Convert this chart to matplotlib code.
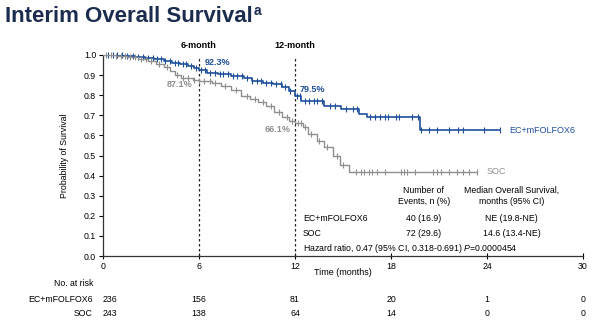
import numpy as np
import matplotlib
matplotlib.use('Agg')
import matplotlib.pyplot as plt
import matplotlib.transforms as mtransforms

plt.rcParams['font.family'] = ['Liberation Sans', 'DejaVu Sans']
plt.rcParams['mathtext.fontset'] = 'custom'
plt.rcParams['mathtext.rm'] = 'Liberation Sans'
plt.rcParams['mathtext.it'] = 'Liberation Sans:italic'

BLUE = '#1f4f9b'
GRAY = '#8f8f8f'
NAVY = '#1b2c4e'

# Kaplan-Meier step points (time in months, survival after the step)
ec_times = [0, 1.3, 2.0, 2.6, 3.2, 3.8, 4.3, 4.8, 5.3, 5.7, 6.0, 6.5, 7.2, 8.0, 8.8,
            9.3, 10.0, 10.6, 11.2, 11.6, 12.0, 12.4, 13.8, 14.9, 16.0, 16.5, 19.8]
ec_surv = [1.0, 0.995, 0.99, 0.985, 0.98, 0.972, 0.962, 0.955, 0.945, 0.935, 0.923, 0.912,
           0.904, 0.897, 0.885, 0.872, 0.862, 0.855, 0.84, 0.82, 0.795, 0.77, 0.747, 0.73,
           0.705, 0.69, 0.625]
ec_end = 24.8

soc_times = [0, 0.8, 1.5, 2.2, 2.8, 3.3, 3.8, 4.2, 4.5, 4.9, 5.6, 6.0, 6.8, 7.4, 8.0,
             8.6, 9.2, 9.7, 10.2, 10.7, 11.2, 11.6, 12.0, 12.5, 12.8, 13.4, 13.8, 14.4,
             14.8, 15.4]
soc_surv = [1.0, 0.995, 0.99, 0.98, 0.97, 0.955, 0.94, 0.92, 0.9, 0.885, 0.875, 0.871,
            0.86, 0.847, 0.825, 0.797, 0.78, 0.765, 0.745, 0.715, 0.69, 0.672, 0.661,
            0.64, 0.605, 0.572, 0.54, 0.497, 0.455, 0.418]
soc_end = 23.4

# Censoring times
ec_censor = [0.3, 0.6, 0.9, 1.2, 1.5, 1.9, 2.2, 2.5, 2.8, 3.1, 3.4, 3.6, 3.9, 4.2, 4.5,
             4.7, 5.0, 5.2, 5.5, 5.8, 6.1, 6.4, 6.7, 7.0, 7.3, 7.5, 7.8, 8.1, 8.4, 8.7,
             9.0, 9.3, 9.6, 9.9, 10.2, 10.5, 10.8, 11.1, 11.4, 11.7, 12.1, 12.3, 12.6,
             12.9, 13.2, 13.4, 13.7, 14.2, 14.5, 15.2, 15.6, 15.9, 16.7, 17.0, 17.3,
             17.6, 17.8, 18.3, 18.5, 19.3, 19.7, 19.9, 20.4, 20.9, 21.6, 22.2, 22.5,
             23.8, 24.8]
soc_censor = [0.2, 0.5, 0.8, 1.1, 1.4, 1.7, 2.0, 2.4, 2.7, 3.0, 3.5, 4.0, 4.6, 5.0, 5.3,
              5.7, 6.0, 6.3, 6.7, 7.0, 7.6, 8.3, 9.0, 9.5, 10.0, 10.5, 11.0, 11.5, 11.8,
              12.2, 12.4, 12.6, 13.0, 13.5, 14.0, 14.6, 15.0, 15.8, 16.1, 16.3, 16.6,
              16.8, 17.1, 17.6, 18.6, 18.8, 19.0, 19.5, 20.6, 20.9, 21.1, 21.6, 22.1,
              22.5, 22.9, 23.4]

# Landmark estimates
landmarks = [6, 12]
ec_landmark = ['92.3%', '79.5%']
soc_landmark = ['87.1%', '66.1%']

# Numbers at risk
risk_times = [0, 6, 12, 18, 24, 30]
ec_risk = [236, 156, 81, 20, 1, 0]
soc_risk = [243, 138, 64, 14, 0, 0]


def surv_at(times, surv, t):
    idx = np.searchsorted(times, t, side='right') - 1
    return np.asarray(surv)[idx]


fig = plt.figure(figsize=(6, 3.21), dpi=100)
ax = fig.add_axes([103 / 600, 65 / 321, 480 / 600, 201 / 321])

for times, surv, end, cens, color, lw in [
        (ec_times, ec_surv, ec_end, ec_censor, BLUE, 1.2),
        (soc_times, soc_surv, soc_end, soc_censor, GRAY, 1.0)]:
    t = list(times) + [end]
    s = list(surv) + [surv[-1]]
    ax.step(t, s, where='post', color=color, lw=lw, zorder=3)
    ax.plot(cens, surv_at(times, surv, cens), ls='none', marker='|',
            ms=5, mew=0.8, color=color, zorder=3, clip_on=False)

ax.text(ec_end + 0.6, ec_surv[-1], 'EC+mFOLFOX6', color=BLUE, fontsize=6.5, va='center')
ax.text(soc_end + 0.6, soc_surv[-1], 'SOC', color=GRAY, fontsize=6.5, va='center')

for m, lab in zip(landmarks, ['6-month', '12-month']):
    ax.plot([m, m], [0, 0.99], ls=(0, (2, 2)), color='#222222', lw=0.9, zorder=2)
    ax.text(m, 1.045, lab, ha='center', va='center', fontsize=6.5, fontweight='bold')

ax.text(6.35, 0.963, ec_landmark[0], color=BLUE, fontsize=6.5, fontweight='bold', va='center')
ax.text(5.6, 0.852, soc_landmark[0], color=GRAY, fontsize=6.5, fontweight='bold',
        va='center', ha='right')
ax.text(12.3, 0.83, ec_landmark[1], color=BLUE, fontsize=6.5, fontweight='bold', va='center')
ax.text(11.75, 0.63, soc_landmark[1], color=GRAY, fontsize=6.5, fontweight='bold',
        va='center', ha='right')

# Summary table inside the plot
fs = 6.3
ax.text(20.05, 0.30, 'Number of\nEvents, n (%)', ha='center', va='center', fontsize=fs,
        linespacing=1.3)
ax.text(25.55, 0.30, 'Median Overall Survival,\nmonths (95% CI)', ha='center',
        va='center', fontsize=fs, linespacing=1.3)
ax.text(12.5, 0.185, 'EC+mFOLFOX6', fontsize=fs, va='center')
ax.text(20.05, 0.185, '40 (16.9)', fontsize=fs, va='center', ha='center')
ax.text(25.55, 0.185, 'NE (19.8-NE)', fontsize=fs, va='center', ha='center')
ax.text(12.5, 0.11, 'SOC', fontsize=fs, va='center')
ax.text(20.05, 0.11, '72 (29.6)', fontsize=fs, va='center', ha='center')
ax.text(25.55, 0.11, '14.6 (13.4-NE)', fontsize=fs, va='center', ha='center')
ax.text(12.5, 0.035, 'Hazard ratio, 0.47 (95% CI, 0.318-0.691) $\\mathit{P}$=0.0000454',
        fontsize=fs, va='center')

ax.set_xlim(0, 30)
ax.set_ylim(0, 1.0)
ax.set_xticks(risk_times)
ax.set_yticks(np.arange(0, 1.01, 0.1))
ax.set_yticklabels([f'{v:.1f}' for v in np.arange(0, 1.01, 0.1)])
ax.tick_params(axis='x', direction='inout', length=5, width=0.8, labelsize=6.3, pad=2)
ax.tick_params(axis='y', direction='out', length=3, width=0.8, labelsize=6.3, pad=2)
for side in ['top', 'right']:
    ax.spines[side].set_visible(False)
for side in ['left', 'bottom']:
    ax.spines[side].set_linewidth(0.9)
    ax.spines[side].set_color('#333333')
ax.set_ylabel('Probability of Survival', fontsize=6.3, labelpad=11)
ax.set_xlabel('Time (months)', fontsize=6.5, labelpad=-2)

# Numbers at risk below the axis
trans = mtransforms.blended_transform_factory(ax.transData, ax.transAxes)
fig.text(93 / 600, 1 - 284 / 321, 'No. at risk', ha='right', va='center', fontsize=6.3)
fig.text(93 / 600, 1 - 299 / 321, 'EC+mFOLFOX6', ha='right', va='center', fontsize=6.3)
fig.text(93 / 600, 1 - 313 / 321, 'SOC', ha='right', va='center', fontsize=6.3)
for t, a, b in zip(risk_times, ec_risk, soc_risk):
    ha = 'left' if t == 0 else 'center'
    ax.text(t, -0.214, str(a), transform=trans, ha=ha, va='center', fontsize=6.3)
    ax.text(t, -0.284, str(b), transform=trans, ha=ha, va='center', fontsize=6.3)

# Title with superscript
title = fig.text(5 / 600, 1 - 17 / 321, 'Interim Overall Survival', fontsize=16,
                 fontweight='bold', color=NAVY, va='center', ha='left')
fig.canvas.draw()
bb = title.get_window_extent()
fig.text(bb.x1 / 600 + 1 / 600, 1 - 11 / 321, 'a', fontsize=10, fontweight='bold',
         color=NAVY, va='center', ha='left')

fig.savefig('out.png', dpi=100, facecolor='white')
